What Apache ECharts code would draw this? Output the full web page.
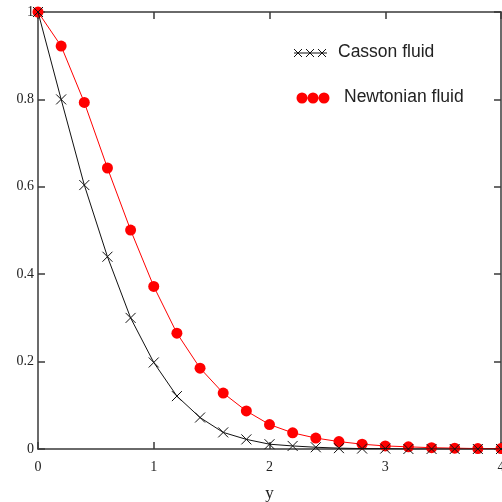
<!DOCTYPE html>
<html>
<head>
	<meta charset="utf-8">
	<title>Casson vs Newtonian</title>
	<script src="https://cdn.jsdelivr.net/npm/echarts@6/dist/echarts.min.js"></script>
	<style>
		html, body { margin: 0; padding: 0; background: #fff; }
		#chart { width: 502px; height: 502px; }
	</style>
</head>
<body>
<div id="chart"></div>
<script>
// x positions (step 0.2)
var xs = [0, 0.2, 0.4, 0.6, 0.8, 1.0, 1.2, 1.4, 1.6, 1.8, 2.0,
          2.2, 2.4, 2.6, 2.8, 3.0, 3.2, 3.4, 3.6, 3.8, 4.0];
var casson = [1, 0.80, 0.604, 0.44, 0.30, 0.198, 0.121, 0.072, 0.038, 0.022, 0.011,
              0.007, 0.004, 0.002, 0.001, 0.001, 0, 0, 0, 0, 0];
var newtonian = [1, 0.922, 0.793, 0.643, 0.501, 0.372, 0.265, 0.185, 0.128, 0.087, 0.056,
                 0.037, 0.025, 0.017, 0.011, 0.007, 0.005, 0.003, 0.002, 0.001, 0.001];

function pairs(vals) {
	return xs.map(function (x, i) { return [x, vals[i]]; });
}

var crossPath = 'path://M0,0L10,10M10,0L0,10';
var frame = { show: true, onZero: false, lineStyle: { color: '#3a3a3a', width: 1.5 } };
var innerTick = { show: true, inside: true, length: 7, lineStyle: { color: '#3a3a3a', width: 1.5 } };
var tickFont = { fontFamily: 'Liberation Serif', fontSize: 14, color: '#222' };

// small x for the legend
function cross(cx, cy) {
	var s = { stroke: '#111', lineWidth: 1 };
	return [
		{ type: 'line', shape: { x1: cx - 4, y1: cy - 4, x2: cx + 4, y2: cy + 4 }, style: s },
		{ type: 'line', shape: { x1: cx + 4, y1: cy - 4, x2: cx - 4, y2: cy + 4 }, style: s }
	];
}

var chart = echarts.init(document.getElementById('chart'));
chart.setOption({
	animation: false,
	grid: { left: 38, right: 1, top: 12, bottom: 53, outerBoundsMode: 'none' },
	xAxis: [{
		type: 'value', position: 'bottom', min: 0, max: 4, interval: 1,
		axisLine: frame, axisTick: innerTick, splitLine: { show: false },
		axisLabel: Object.assign({ margin: 11, showMaxLabel: true }, tickFont),
		name: 'y', nameLocation: 'middle', nameGap: 36,
		nameTextStyle: { fontFamily: 'Liberation Serif', fontSize: 17, color: '#222' }
	}, {
		type: 'value', position: 'top', min: 0, max: 4, interval: 1,
		axisLine: frame, axisTick: innerTick, splitLine: { show: false },
		axisLabel: { show: false }
	}],
	yAxis: [{
		type: 'value', position: 'left', min: 0, max: 1, interval: 0.2,
		axisLine: frame, axisTick: innerTick, splitLine: { show: false },
		axisLabel: Object.assign({ margin: 4, formatter: function (v) { return String(+v.toFixed(1)); } }, tickFont)
	}, {
		type: 'value', position: 'right', min: 0, max: 1, interval: 0.2,
		axisLine: frame, axisTick: innerTick, splitLine: { show: false },
		axisLabel: { show: false }
	}],
	series: [{
		name: 'Newtonian fluid', type: 'line', data: pairs(newtonian),
		symbol: 'circle', symbolSize: 11, showAllSymbol: true,
		lineStyle: { color: '#ff0000', width: 1 },
		itemStyle: { color: '#ff0000' },
		z: 2
	}, {
		name: 'Casson fluid', type: 'line', data: pairs(casson),
		symbol: crossPath, symbolSize: 10, showAllSymbol: true,
		lineStyle: { color: '#111', width: 1 },
		itemStyle: { color: 'none', borderColor: '#111', borderWidth: 1 },
		z: 3
	}],
	graphic: [
		// legend: Casson
		{ type: 'line', shape: { x1: 294, y1: 53, x2: 327, y2: 53 }, style: { stroke: '#111', lineWidth: 1 } }
	].concat(cross(298, 53), cross(310, 53), cross(322, 53), [
		{ type: 'text', left: 338, top: 43, style: { text: 'Casson fluid', font: '17.5px "Liberation Sans"', fill: '#222' } },
		// legend: Newtonian
		{ type: 'line', shape: { x1: 298, y1: 98, x2: 327, y2: 98 }, style: { stroke: '#ff0000', lineWidth: 1 } },
		{ type: 'circle', shape: { cx: 302, cy: 98, r: 5.5 }, style: { fill: '#ff0000' } },
		{ type: 'circle', shape: { cx: 313, cy: 98, r: 5.5 }, style: { fill: '#ff0000' } },
		{ type: 'circle', shape: { cx: 324, cy: 98, r: 5.5 }, style: { fill: '#ff0000' } },
		{ type: 'text', left: 344, top: 88, style: { text: 'Newtonian fluid', font: '17.5px "Liberation Sans"', fill: '#222' } }
	])
});
</script>
</body>
</html>
